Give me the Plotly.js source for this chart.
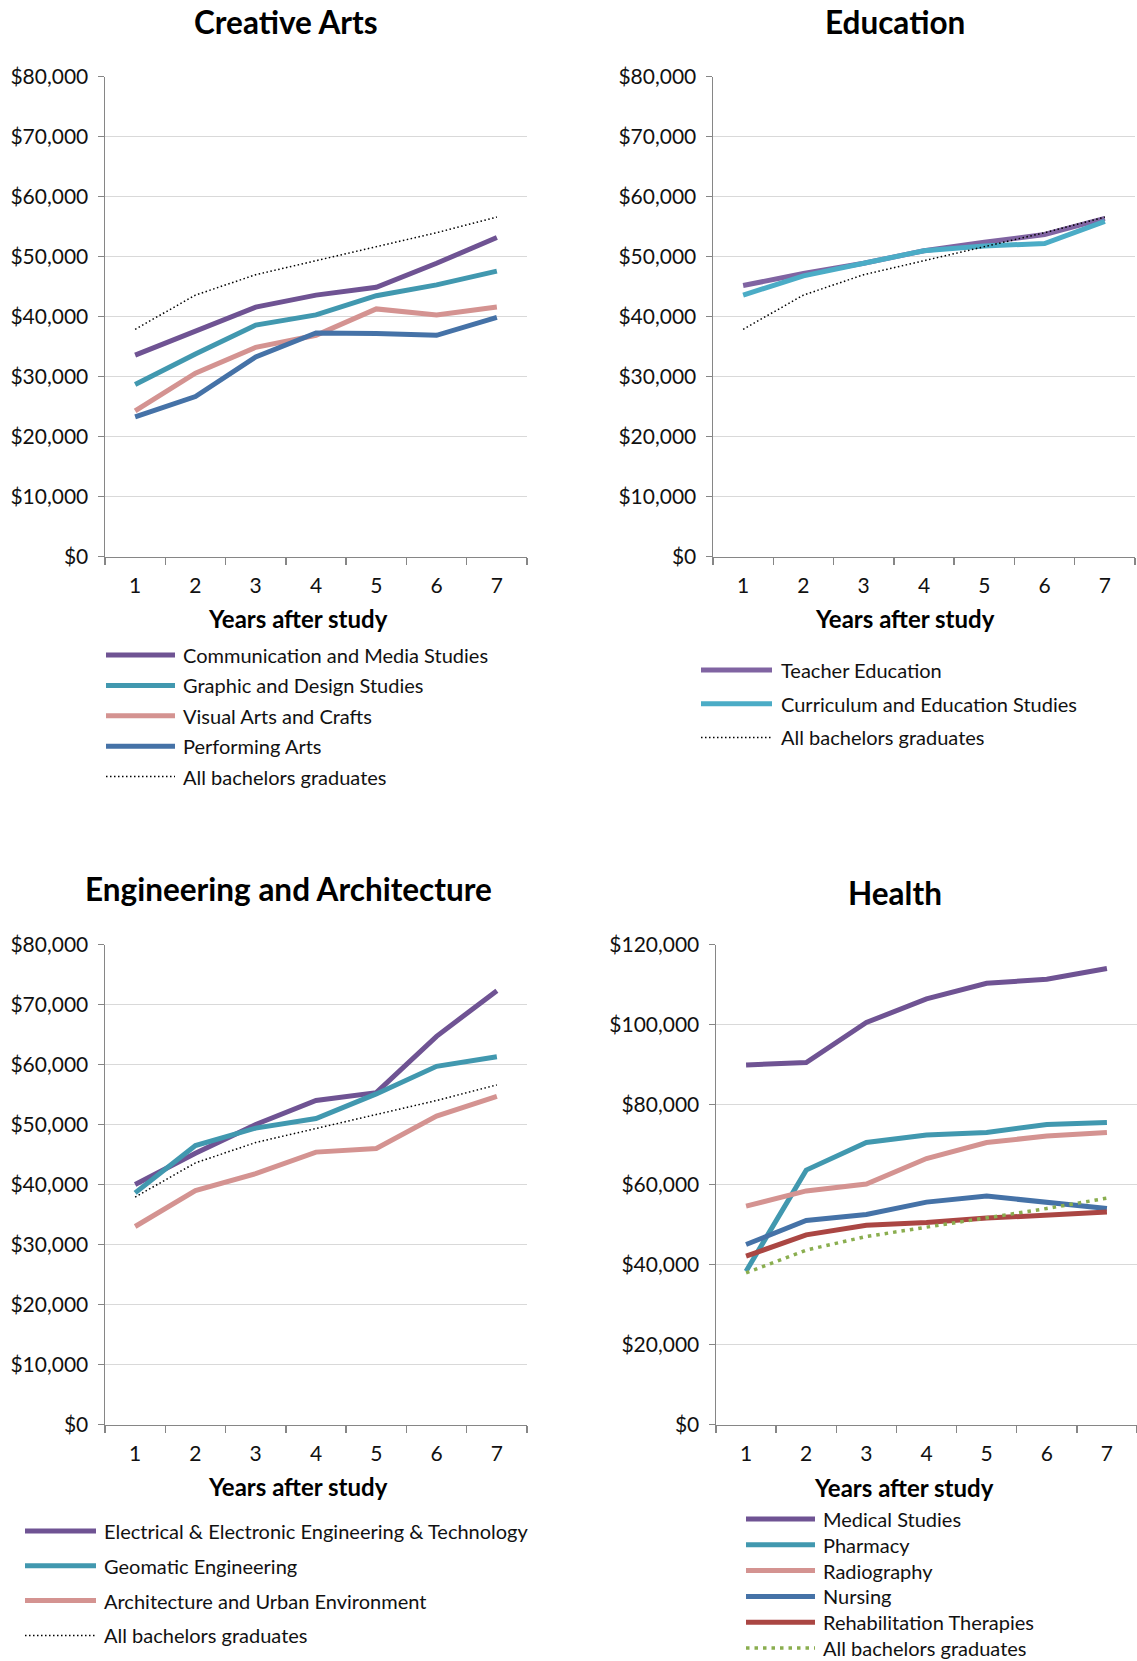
<!DOCTYPE html>
<html><head><meta charset="utf-8">
<script src="https://cdn.plot.ly/plotly-3.0.1.min.js"></script>
<style>html,body{margin:0;padding:0;background:#fff}</style>
</head><body><div id="chart" style="width:1137px;height:1661px"></div>
<script>
// ---------------- DATA ----------------
const years = ['1', '2', '3', '4', '5', '6', '7'];
const allBachelors = [37900, 43600, 47000, 49300, 51700, 54000, 56600];
const bachelorsName = 'All bachelors graduates';

const creativeTitle = 'Creative Arts';
const creativeNames = ['Communication and Media Studies', 'Graphic and Design Studies', 'Visual Arts and Crafts', 'Performing Arts'];
const commMedia   = [33600, 37600, 41600, 43600, 44900, 48900, 53200];
const graphicDesign = [28700, 33800, 38600, 40300, 43500, 45300, 47600];
const visualArts  = [24300, 30600, 34900, 36900, 41300, 40300, 41600];
const performingArts = [23300, 26700, 33300, 37300, 37200, 36900, 39900];

const educationTitle = 'Education';
const educationNames = ['Teacher Education', 'Curriculum and Education Studies'];
const teacherEd    = [45200, 47200, 48900, 51000, 52400, 53700, 56400];
const curriculumEd = [43600, 46800, 48900, 51000, 51800, 52200, 55900];

const engineeringTitle = 'Engineering and Architecture';
const engineeringNames = ['Electrical & Electronic Engineering & Technology', 'Geomatic Engineering', 'Architecture and Urban Environment'];
const electricalEng = [40000, 45200, 50000, 54000, 55300, 64700, 72300];
const geomaticEng   = [38600, 46500, 49400, 51000, 55100, 59700, 61300];
const architecture  = [33000, 39000, 41800, 45400, 46000, 51400, 54700];

const healthTitle = 'Health';
const healthNames = ['Medical Studies', 'Pharmacy', 'Radiography', 'Nursing', 'Rehabilitation Therapies'];
const medical     = [89900, 90500, 100500, 106400, 110300, 111300, 114000];
const pharmacy    = [38300, 63600, 70500, 72400, 73000, 75000, 75500];
const radiography = [54600, 58400, 60100, 66500, 70500, 72100, 73000];
const nursing     = [45000, 51000, 52500, 55600, 57100, 55500, 54000];
const rehab       = [42100, 47400, 49800, 50500, 51600, 52200, 53100];

const axisTitle = 'Years after study';

// ---------------- STYLE / LAYOUT ----------------
const W = 1137, H = 1661;
const FONT = 'Lato, "Open Sans", sans-serif';
const C = {purple:'#6F5393', teal:'#4198AF', pink:'#D49391', blue:'#4572A7', red:'#AA4643',
           ePurple:'#8064A2', eTeal:'#4BACC6', green:'#8AAE4F'};
const px = x => x / W, py = y => 1 - y / H;

const panels = [
  {title: creativeTitle, names: creativeNames, series: [commMedia, graphicDesign, visualArts, performingArts],
   colors: [C.purple, C.teal, C.pink, C.blue], bachColor:'#000', bachW:1.5, bachDash:'1.5px,2.5px',
   x0:105, x1:527, y0:76.7, y1:556.7, ymax:80000, dtick:10000,
   tx:286, ty:22, ax:298, ay:618, lx0:106, lx1:175, ltx:181, ly0:655, ldy:30.4},
  {title: educationTitle, names: educationNames, series: [teacherEd, curriculumEd],
   colors: [C.ePurple, C.eTeal], bachColor:'#000', bachW:1.5, bachDash:'1.5px,2.5px',
   x0:713, x1:1135, y0:76.7, y1:556.7, ymax:80000, dtick:10000,
   tx:895, ty:22, ax:905, ay:618, lx0:701, lx1:772, ltx:779, ly0:670, ldy:33.7},
  {title: engineeringTitle, names: engineeringNames, series: [electricalEng, geomaticEng, architecture],
   colors: [C.purple, C.teal, C.pink], bachColor:'#000', bachW:1.5, bachDash:'1.5px,2.5px',
   x0:105, x1:527, y0:944.5, y1:1424.5, ymax:80000, dtick:10000,
   tx:288, ty:889, ax:298, ay:1486, lx0:25, lx1:96, ltx:102, ly0:1531, ldy:34.8},
  {title: healthTitle, names: healthNames, series: [medical, pharmacy, radiography, nursing, rehab],
   colors: [C.purple, C.teal, C.pink, C.blue, C.red], bachColor:C.green, bachW:3.5, bachDash:'3.5px,5px',
   x0:716, x1:1137, y0:944.5, y1:1424.5, ymax:120000, dtick:20000,
   tx:895, ty:893, ax:904, ay:1487, lx0:746, lx1:815, ltx:821, ly0:1519, ldy:25.8}
];

const traces = [];
const layout = {
  width: W, height: H, margin: {l:0, r:0, t:0, b:0}, showlegend: false,
  paper_bgcolor: '#fff', plot_bgcolor: '#fff',
  font: {family: FONT, color: '#111'},
  annotations: [], shapes: []
};

panels.forEach((p, i) => {
  const n = i + 1, xa = 'x' + (n === 1 ? '' : n), ya = 'y' + (n === 1 ? '' : n);
  const xk = 'xaxis' + (n === 1 ? '' : n), yk = 'yaxis' + (n === 1 ? '' : n);
  p.series.forEach((s, j) => {
    traces.push({type:'scatter', mode:'lines', x: years, y: s, name: p.names[j], xaxis: xa, yaxis: ya,
      line: {color: p.colors[j], width: 5}, hoverinfo: 'name+y'});
  });
  traces.push({type:'scatter', mode:'lines', x: years, y: allBachelors, name: bachelorsName, xaxis: xa, yaxis: ya,
    line: {color: p.bachColor, width: p.bachW, dash: p.bachDash}, hoverinfo: 'name+y'});

  layout[xk] = {domain: [px(p.x0), px(p.x1)], anchor: ya, type: 'category', range: [-0.5, 6.5],
    tickson: 'boundaries', ticks: 'outside', ticklen: 7, tickwidth: 1.5, tickcolor: '#868686',
    showline: true, linecolor: '#868686', linewidth: 1.5, showgrid: false, zeroline: false,
    tickfont: {family: FONT, size: 21, color: '#111'}, ticklabelstandoff: 10, fixedrange: true};
  layout[yk] = {domain: [py(p.y1), py(p.y0)], anchor: xa, range: [0, p.ymax], dtick: p.dtick, tick0: 0,
    tickprefix: '$', tickformat: ',.0f', showgrid: true, gridcolor: '#d9d9d9', gridwidth: 1.5,
    zeroline: false, showline: true, linecolor: '#868686', linewidth: 1.5,
    ticks: 'outside', ticklen: 6, tickwidth: 1.5, tickcolor: '#868686',
    tickfont: {family: FONT, size: 21, color: '#111'}, ticklabelstandoff: 5, fixedrange: true};

  layout.annotations.push({text: '<b>' + p.title + '</b>', xref:'paper', yref:'paper', x: px(p.tx), y: py(p.ty),
    xanchor:'center', yanchor:'middle', showarrow:false, font:{family: FONT, size: 31.5, color:'#000'}});
  layout.annotations.push({text: '<b>' + axisTitle + '</b>', xref:'paper', yref:'paper', x: px(p.ax), y: py(p.ay),
    xanchor:'center', yanchor:'middle', showarrow:false, font:{family: FONT, size: 24, color:'#000'}});

  // legend
  const legNames = p.names.concat([bachelorsName]);
  legNames.forEach((nm, j) => {
    const yy = p.ly0 + j * p.ldy;
    const isB = j === legNames.length - 1;
    layout.shapes.push({type:'line', xref:'paper', yref:'paper', x0: px(p.lx0), x1: px(p.lx1), y0: py(yy), y1: py(yy),
      line: isB ? {color: p.bachColor, width: p.bachW, dash: p.bachDash} : {color: p.colors[j], width: 5}});
    layout.annotations.push({text: nm, xref:'paper', yref:'paper', x: px(p.ltx), y: py(yy),
      xanchor:'left', yanchor:'middle', showarrow:false, font:{family: FONT, size: 20, color:'#111'}});
  });
});

Plotly.newPlot('chart', traces, layout, {staticPlot: true, displayModeBar: false});
</script></body></html>
